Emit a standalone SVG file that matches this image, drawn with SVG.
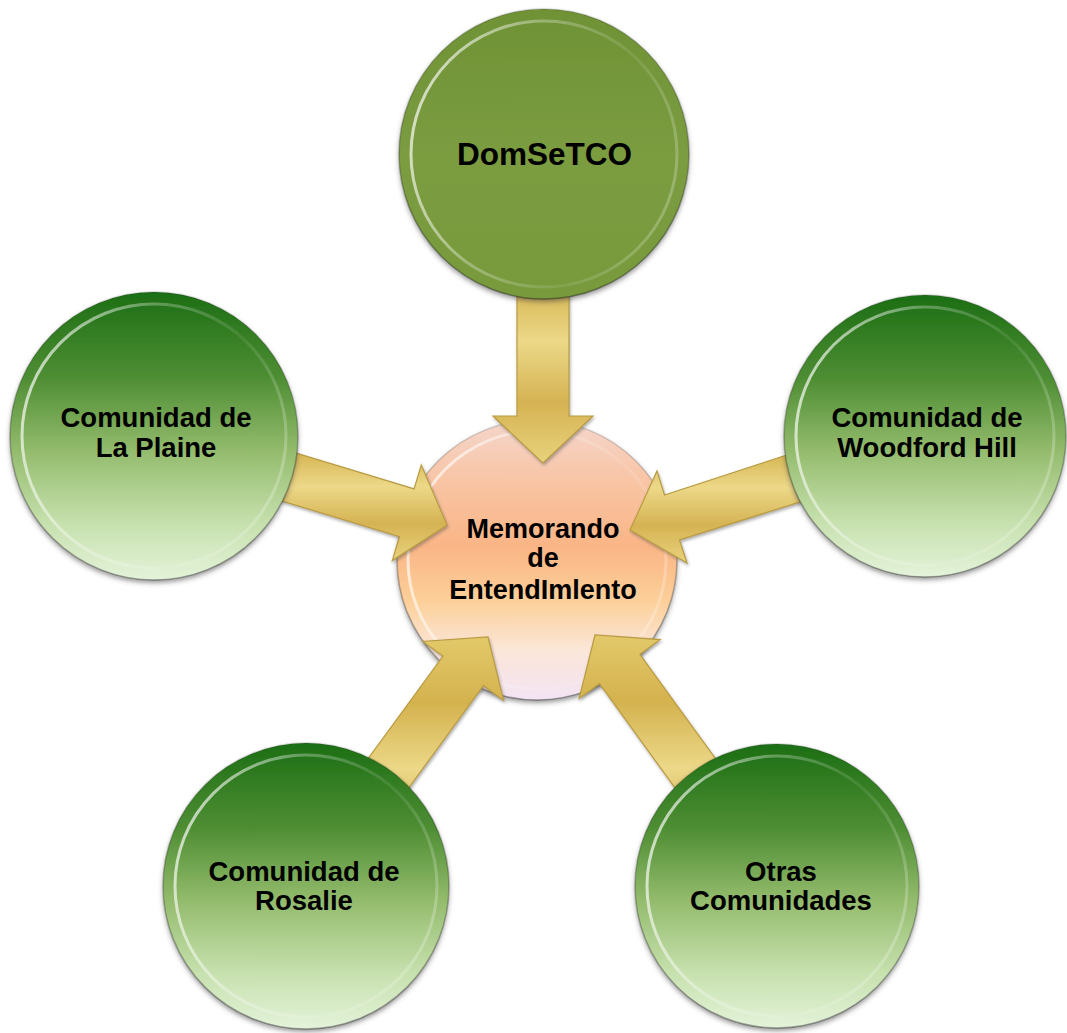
<svg xmlns="http://www.w3.org/2000/svg" width="1067" height="1033" viewBox="0 0 1067 1033">
<defs>
  <linearGradient id="gGreen" x1="0" y1="0" x2="0" y2="1">
    <stop offset="0" stop-color="#1c6e14"/>
    <stop offset="0.3" stop-color="#4f8e34"/>
    <stop offset="0.55" stop-color="#93bb6c"/>
    <stop offset="0.8" stop-color="#c6e0ad"/>
    <stop offset="1" stop-color="#e4f3da"/>
  </linearGradient>
  <linearGradient id="gOlive" x1="0" y1="0" x2="0" y2="1">
    <stop offset="0" stop-color="#6f9236"/>
    <stop offset="0.5" stop-color="#7b9c40"/>
    <stop offset="1" stop-color="#789a3d"/>
  </linearGradient>
  <linearGradient id="gPeach" x1="0" y1="0" x2="0" y2="1">
    <stop offset="0" stop-color="#f4d6cc"/>
    <stop offset="0.2" stop-color="#f8c6a8"/>
    <stop offset="0.45" stop-color="#fab585"/>
    <stop offset="0.65" stop-color="#fcd09a"/>
    <stop offset="0.82" stop-color="#fbe6d8"/>
    <stop offset="1" stop-color="#f3e4f4"/>
  </linearGradient>
  <linearGradient id="gRim" x1="0" y1="0.35" x2="1" y2="0.65">
    <stop offset="0" stop-color="#ffffff" stop-opacity="0.7"/>
    <stop offset="0.35" stop-color="#ffffff" stop-opacity="0.3"/>
    <stop offset="0.7" stop-color="#ffffff" stop-opacity="0.08"/>
    <stop offset="1" stop-color="#ffffff" stop-opacity="0.25"/>
  </linearGradient>
  <linearGradient id="gEdge" x1="0" y1="0" x2="0" y2="1">
    <stop offset="0" stop-color="#000000" stop-opacity="0.15"/>
    <stop offset="1" stop-color="#000000" stop-opacity="0.35"/>
  </linearGradient>
  <linearGradient id="gGold" x1="0" y1="0" x2="0" y2="1">
    <stop offset="0" stop-color="#e3c96a"/>
    <stop offset="0.25" stop-color="#d4b24e"/>
    <stop offset="0.5" stop-color="#ecd888"/>
    <stop offset="0.75" stop-color="#d5b353"/>
    <stop offset="1" stop-color="#e8d27c"/>
  </linearGradient>
  <filter id="shadow" x="-10%" y="-10%" width="120%" height="125%">
    <feDropShadow dx="0" dy="3" stdDeviation="2.5" flood-color="#404040" flood-opacity="0.55"/>
  </filter>
  <filter id="ashadow" x="-10%" y="-10%" width="120%" height="120%">
    <feDropShadow dx="1" dy="2" stdDeviation="1.5" flood-color="#505050" flood-opacity="0.45"/>
  </filter>
</defs>
<style>
  .lbl { font-family: "Liberation Sans", Arial, sans-serif; font-weight: bold; fill: #000; text-anchor: middle; }
  .outer { font-size: 27.5px; }
  .rim { fill: none; stroke: url(#gRim); stroke-width: 3; }
  .edge { fill: none; stroke: url(#gEdge); stroke-width: 1.5; }
  .arrow { fill: url(#gGold); stroke: #b99c42; stroke-width: 1.2; stroke-linejoin: miter; filter: url(#ashadow); }
</style>

<g id="node-memorando">
  <circle cx="537" cy="560" r="140" fill="url(#gPeach)" filter="url(#shadow)"/>
  <circle cx="537" cy="560" r="129" class="rim"/>
  <circle cx="537" cy="560" r="140" class="edge"/>
  <text class="lbl" font-size="27" x="543" y="538">Memorando</text>
  <text class="lbl" font-size="27" x="543" y="567">de</text>
  <text class="lbl" font-size="27" x="543" y="599">EntendImlento</text>
</g>

<g id="connectors">
  <polygon class="arrow" points="517,220 517,416 493,416 543,463 593,416 569,416 569,220"/>
  <polygon class="arrow" points="146.7,459.9 399.5,536.7 392.3,560.6 447,525 421.3,465 414.1,488.9 161.3,412.1"/>
  <polygon class="arrow" points="918.4,412.2 664.5,495 657,471 630,530 687,563 679.5,540 933.6,459.8"/>
  <polygon class="arrow" points="326.2,900.8 483.4,685.7 503.6,700.4 488,637 422.8,641.4 443,656.1 285.8,871.2"/>
  <polygon class="arrow" points="797.2,871.3 639.9,654.3 660.2,639.6 595,635 579.2,698.4 599.5,683.7 756.8,900.7"/>
</g>

<g id="node-domsetco">
  <circle cx="544" cy="154" r="145" fill="url(#gOlive)" filter="url(#shadow)"/>
  <circle cx="544" cy="154" r="133" class="rim"/>
  <circle cx="544" cy="154" r="145" class="edge"/>
  <text class="lbl" font-size="31.5" x="544.5" y="165">DomSeTCO</text>
</g>

<g id="node-la-plaine">
  <circle cx="154" cy="436" r="144" fill="url(#gGreen)" filter="url(#shadow)"/>
  <circle cx="154" cy="436" r="132" class="rim"/>
  <circle cx="154" cy="436" r="144" class="edge"/>
  <text class="lbl outer" x="156" y="427">Comunidad de</text>
  <text class="lbl outer" x="156" y="457">La Plaine</text>
</g>

<g id="node-woodford-hill">
  <circle cx="925" cy="436" r="141" fill="url(#gGreen)" filter="url(#shadow)"/>
  <circle cx="925" cy="436" r="129" class="rim"/>
  <circle cx="925" cy="436" r="141" class="edge"/>
  <text class="lbl outer" x="927" y="427">Comunidad de</text>
  <text class="lbl outer" x="927" y="457">Woodford Hill</text>
</g>

<g id="node-rosalie">
  <circle cx="306" cy="886" r="143" fill="url(#gGreen)" filter="url(#shadow)"/>
  <circle cx="306" cy="886" r="131" class="rim"/>
  <circle cx="306" cy="886" r="143" class="edge"/>
  <text class="lbl outer" x="304" y="881">Comunidad de</text>
  <text class="lbl outer" x="304" y="910">Rosalie</text>
</g>

<g id="node-otras">
  <circle cx="777" cy="886" r="142" fill="url(#gGreen)" filter="url(#shadow)"/>
  <circle cx="777" cy="886" r="130" class="rim"/>
  <circle cx="777" cy="886" r="142" class="edge"/>
  <text class="lbl outer" x="781" y="881">Otras</text>
  <text class="lbl outer" x="781" y="910">Comunidades</text>
</g>
</svg>
